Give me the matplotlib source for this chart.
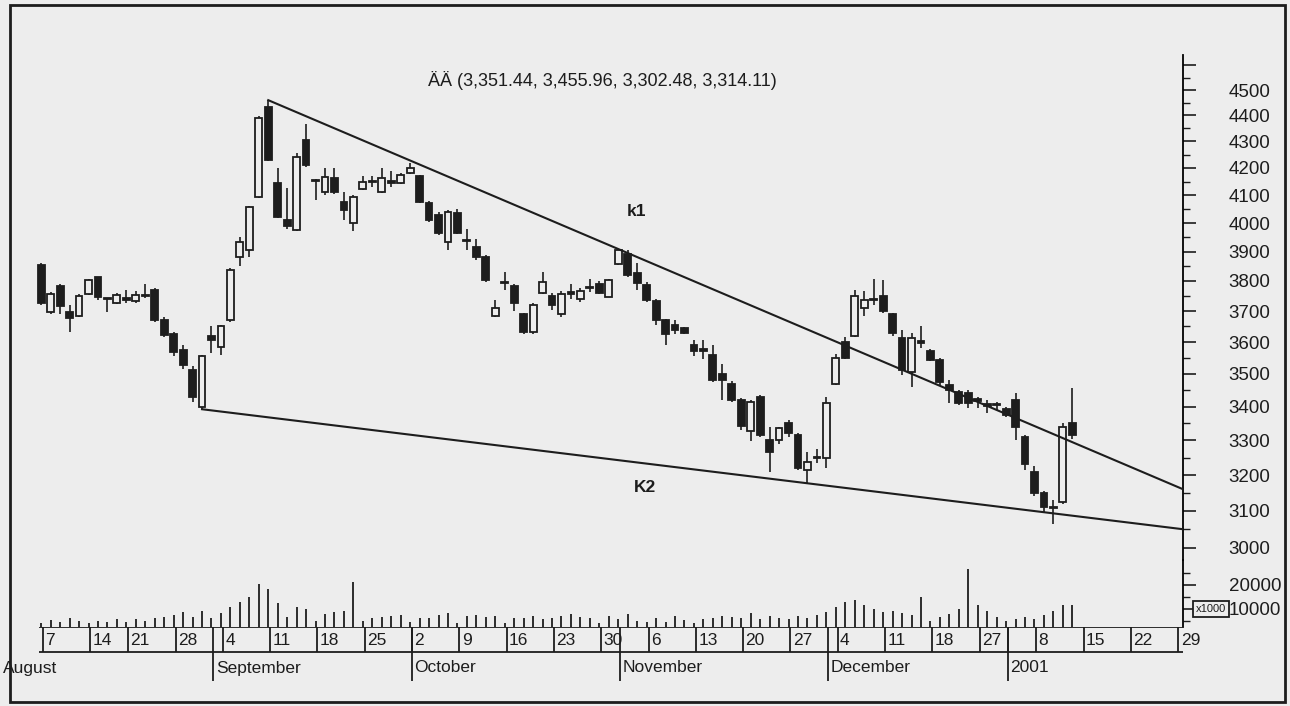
import matplotlib
matplotlib.use('Agg')
import matplotlib.pyplot as plt
from matplotlib.patches import Rectangle
from matplotlib.ticker import FixedLocator, FixedFormatter, NullFormatter

W, H = 1290, 706
BG = '#ededed'
INK = '#1d1d1d'
plt.rcParams['font.family'] = ['Liberation Sans', 'DejaVu Sans']

# daily OHLC, one entry per trading day (Aug 7 2000 .. Jan 12 2001)
opens = [3854, 3698, 3783, 3697, 3685, 3757, 3812, 3741, 3728, 3742,
         3734, 3750, 3770, 3671, 3626, 3575, 3512, 3400, 3620, 3584,
         3671, 3883, 3906, 4094, 4434, 4143, 4011, 3976, 4305, 4157,
         4113, 4163, 4075, 4000, 4124, 4148, 4113, 4152, 4145, 4183,
         4170, 4070, 4028, 3935, 4035, 3942, 3917, 3883, 3685, 3798,
         3783, 3690, 3632, 3760, 3750, 3690, 3762, 3740, 3779, 3790,
         3748, 3859, 3893, 3827, 3786, 3732, 3671, 3655, 3645, 3590,
         3577, 3560, 3500, 3470, 3420, 3326, 3430, 3300, 3300, 3350,
         3315, 3214, 3252, 3250, 3470, 3600, 3620, 3710, 3740, 3750,
         3690, 3613, 3505, 3602, 3570, 3543, 3466, 3445, 3440, 3422,
         3407, 3407, 3393, 3420, 3310, 3208, 3150, 3112, 3125, 3351.44]
highs = [3862, 3762, 3790, 3720, 3755, 3808, 3815, 3743, 3760, 3770,
         3765, 3790, 3775, 3680, 3632, 3590, 3525, 3560, 3651, 3655,
         3845, 3952, 4062, 4396, 4460, 4200, 4128, 4256, 4365, 4160,
         4200, 4200, 4113, 4100, 4170, 4170, 4200, 4190, 4180, 4220,
         4175, 4078, 4040, 4045, 4050, 3980, 3945, 3890, 3737, 3830,
         3790, 3695, 3725, 3830, 3760, 3765, 3790, 3775, 3805, 3800,
         3808, 3910, 3905, 3860, 3795, 3740, 3675, 3670, 3648, 3605,
         3605, 3590, 3530, 3478, 3425, 3420, 3435, 3340, 3340, 3360,
         3320, 3265, 3275, 3430, 3562, 3615, 3770, 3768, 3808, 3803,
         3695, 3640, 3630, 3650, 3578, 3548, 3480, 3450, 3450, 3430,
         3420, 3415, 3400, 3440, 3315, 3225, 3155, 3130, 3350, 3455.96]
lows = [3720, 3690, 3690, 3632, 3680, 3752, 3735, 3697, 3722, 3728,
        3728, 3742, 3665, 3615, 3555, 3515, 3415, 3392, 3564, 3560,
        3665, 3850, 3883, 4090, 4225, 4018, 3980, 3972, 4205, 4082,
        4100, 4105, 4011, 3973, 4120, 4130, 4108, 4130, 4140, 4178,
        4070, 4005, 3958, 3906, 3960, 3906, 3870, 3798, 3680, 3770,
        3700, 3625, 3625, 3755, 3705, 3680, 3740, 3730, 3762, 3755,
        3745, 3855, 3815, 3770, 3730, 3655, 3590, 3625, 3625, 3555,
        3545, 3475, 3420, 3415, 3330, 3297, 3310, 3208, 3290, 3310,
        3215, 3175, 3235, 3220, 3465, 3545, 3615, 3685, 3720, 3695,
        3620, 3495, 3460, 3580, 3540, 3465, 3410, 3405, 3395, 3395,
        3380, 3390, 3370, 3300, 3215, 3140, 3098, 3065, 3118, 3302.48]
closes = [3727, 3757, 3717, 3677, 3750, 3803, 3745, 3739, 3752, 3738,
          3752, 3754, 3671, 3623, 3567, 3527, 3430, 3555, 3605, 3650,
          3837, 3934, 4058, 4389, 4230, 4023, 3990, 4242, 4211, 4153,
          4168, 4110, 4046, 4094, 4150, 4152, 4163, 4146, 4175, 4200,
          4075, 4011, 3965, 4040, 3965, 3938, 3883, 3803, 3710, 3794,
          3725, 3632, 3720, 3796, 3720, 3757, 3758, 3767, 3775, 3760,
          3803, 3906, 3820, 3793, 3737, 3671, 3627, 3640, 3630, 3570,
          3573, 3480, 3480, 3420, 3343, 3414, 3315, 3267, 3335, 3320,
          3220, 3237, 3248, 3410, 3550, 3550, 3750, 3737, 3735, 3700,
          3630, 3512, 3613, 3598, 3543, 3475, 3450, 3410, 3410, 3418,
          3403, 3404, 3375, 3340, 3230, 3150, 3110, 3108, 3340, 3314.11]
volumes = [4170, 5420, 4590, 6250, 5000, 4170, 5000, 4590, 5840, 4590,
           5840, 5000, 6250, 6670, 7500, 8760, 6670, 9170, 6250, 8340,
           10840, 12930, 15010, 20430, 18350, 12510, 6670, 10840, 10010, 5000,
           7920, 8760, 9170, 21270, 5000, 6250, 6670, 7090, 7500, 4590,
           6250, 6250, 7500, 8340, 4170, 7090, 7500, 6670, 7090, 4170,
           6250, 6250, 7090, 5840, 6250, 7090, 7920, 6670, 6250, 4170,
           7090, 5840, 7920, 5000, 4590, 6250, 4590, 7090, 5420, 4170,
           5840, 6250, 7090, 6670, 6250, 8340, 5840, 7090, 6250, 5840,
           7090, 6250, 7500, 8760, 10840, 12930, 13760, 11670, 10010, 8760,
           9170, 8340, 7500, 15010, 5000, 6670, 7920, 10010, 26690, 11670,
           9170, 6670, 5000, 5840, 6670, 5840, 7500, 9170, 11670, 11670]

# calendar axis: trading-day index where each week / month starts
week_idx = [0, 5, 9, 14, 19, 24, 29, 34, 39, 44, 49, 54, 59, 64, 69,
            74, 79, 84, 89, 94, 99, 102, 105, 110, 115, 120]
week_lbl = ['7', '14', '21', '28', '4', '11', '18', '25', '2', '9', '16', '23',
            '30', '6', '13', '20', '27', '4', '11', '18', '27', '', '8', '15',
            '22', '29']
month_idx = [18, 39, 61, 83, 102]
month_lbl = ['September', 'October', 'November', 'December', '2001']

# trend lines (start day, start price, end price at right edge)
k1 = (24, 4460, 3160)
k2 = (17, 3392, 3050)
title = 'ÄÄ (3,351.44, 3,455.96, 3,302.48, 3,314.11)'

X0, X1 = -3.3, 120.7


def rect(left, top, right, bottom):
    return [left / W, 1 - bottom / H, (right - left) / W, (bottom - top) / H]


fig = plt.figure(figsize=(W / 100, H / 100), dpi=100, facecolor=BG)

# price panel
ax = fig.add_axes(rect(10, 55, 1183, 560))
ax.set_facecolor('none')
ax.set_yscale('log')
ax.set_xlim(X0, X1)
ax.set_ylim(2968, 4642)
xs = list(range(len(opens)))
ax.vlines(xs, lows, highs, color=INK, lw=1.2, zorder=2)
for i in xs:
    o, c = opens[i], closes[i]
    lo, hi = min(o, c), max(o, c)
    if hi - lo < 3:
        hi = lo + 3
    face = INK if c < o else BG
    ax.bar(i, hi - lo, bottom=lo, width=0.72, facecolor=face,
           edgecolor=INK, linewidth=1.3, zorder=3)

for d0, p0, p1 in (k1, k2):
    ax.plot([d0, X1], [p0, p1], color=INK, lw=1.5, zorder=4)

for s in ['top', 'left', 'bottom']:
    ax.spines[s].set_visible(False)
ax.spines['right'].set_linewidth(1.3)
ax.set_xticks([])
ax.yaxis.tick_right()
majors = list(range(3000, 4700, 100))
ax.yaxis.set_major_locator(FixedLocator(majors))
ax.yaxis.set_major_formatter(FixedFormatter([str(v) if v <= 4500 else '' for v in majors]))
ax.yaxis.set_minor_locator(FixedLocator([v + 50 for v in majors]))
ax.yaxis.set_minor_formatter(NullFormatter())
ax.tick_params(axis='y', which='major', length=9, width=1.2, pad=24,
               labelsize=13.5, colors=INK)
ax.tick_params(axis='y', which='minor', length=5, width=1.0, colors=INK)

# volume panel
av = fig.add_axes(rect(10, 560, 1183, 627))
av.set_facecolor('none')
av.set_xlim(X0, X1)
av.set_ylim(2500, 30400)
av.vlines(xs, 0, volumes, color=INK, lw=1.3)
for s in ['top', 'left', 'bottom']:
    av.spines[s].set_visible(False)
av.spines['right'].set_linewidth(1.3)
av.set_xticks([])
av.yaxis.tick_right()
av.yaxis.set_major_locator(FixedLocator([10000, 20000]))
av.yaxis.set_major_formatter(FixedFormatter(['10000', '20000']))
av.yaxis.set_minor_locator(FixedLocator([5000, 15000, 25000]))
av.yaxis.set_minor_formatter(NullFormatter())
av.tick_params(axis='y', which='major', length=9, width=1.2, pad=24,
               labelsize=13.5, colors=INK)
av.tick_params(axis='y', which='minor', length=5, width=1.0, colors=INK)

# date scale
ad = fig.add_axes(rect(10, 627, 1183, 700))
ad.set_xlim(X0, X1)
ad.set_ylim(73, 0)
ad.axis('off')
first = week_idx[0] + 0.2
ad.hlines([0, 25], first - 0.4, X1, color=INK, lw=1.3)
for d, lbl in zip(week_idx, week_lbl):
    ad.vlines(d + 0.2, -3, 25, color=INK, lw=1.3)
    ad.text(d + 0.45, 13.5, lbl, fontsize=12.5, color=INK, ha='left', va='center')
for d, lbl in zip(month_idx, month_lbl):
    ad.vlines(d + 0.2, -3, 54, color=INK, lw=1.3)
    ad.text(d + 0.45, 41, lbl, fontsize=12.5, color=INK, ha='left', va='center')
fig.text(3 / W, 1 - 668 / H, 'August', fontsize=12.5, color=INK, ha='left', va='center')

# volume multiplier box
fig.text(1211 / W, 1 - 609 / H, 'x1000', fontsize=8, color=INK, ha='center', va='center',
         bbox=dict(boxstyle='square,pad=0.3', facecolor=BG, edgecolor=INK, lw=1.3),
         zorder=10)

# annotations
fig.text(428 / W, 1 - 80 / H, title, fontsize=13, color=INK, ha='left', va='center')
fig.text(637 / W, 1 - 212 / H, 'k1', fontsize=12.5, fontweight='bold', color=INK,
         ha='center', va='center')
fig.text(645 / W, 1 - 488 / H, 'K2', fontsize=12.5, fontweight='bold', color=INK,
         ha='center', va='center')

# outer frame of the scanned chart
fig.patches.append(Rectangle((10 / W, 1 - 702 / H), 1275 / W, 697 / H,
                             transform=fig.transFigure, fill=False,
                             edgecolor=INK, lw=2))

fig.savefig('out.png', dpi=100, facecolor=BG)
